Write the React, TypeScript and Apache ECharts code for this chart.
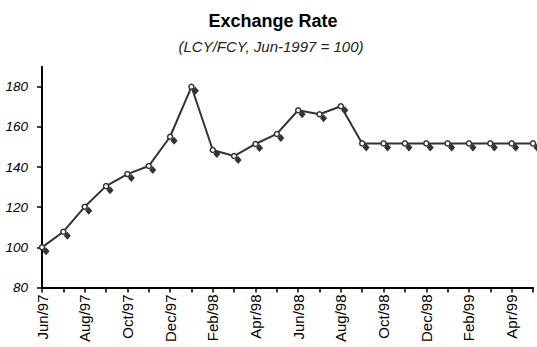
import React, { useEffect, useRef } from "react";
import * as echarts from "echarts";

const months = [
  "Jun/97", "Jul/97", "Aug/97", "Sep/97", "Oct/97", "Nov/97", "Dec/97",
  "Jan/98", "Feb/98", "Mar/98", "Apr/98", "May/98", "Jun/98", "Jul/98",
  "Aug/98", "Sep/98", "Oct/98", "Nov/98", "Dec/98", "Jan/99", "Feb/99",
  "Mar/99", "Apr/99", "May/99",
];

const rateIndex = [
  100, 107.8, 120.2, 130.5, 136.5, 140.5, 155.1, 180, 148.5, 145.5, 151.5,
  156.5, 168.3, 166.3, 170.3, 151.8, 151.8, 151.8, 151.8, 151.8, 151.8,
  151.8, 151.8, 151.8,
];

const titleText = "Exchange Rate";
const subtitleText = "(LCY/FCY, Jun-1997 = 100)";

const FONT = "'Liberation Sans', Arial, Helvetica, sans-serif";

export default function App() {
  const ref = useRef<HTMLDivElement>(null);

  useEffect(() => {
    if (!ref.current) return;
    const chart = echarts.init(ref.current, undefined, { renderer: "svg" });
    chart.setOption({
      animation: false,
      backgroundColor: "#ffffff",
      graphic: [
        {
          type: "text",
          x: 273,
          y: 21,
          style: {
            text: titleText,
            textAlign: "center",
            textVerticalAlign: "middle",
            fontFamily: FONT,
            fontSize: 18,
            fontWeight: "bold",
            fill: "#000",
          },
        },
        {
          type: "text",
          x: 271,
          y: 46,
          style: {
            text: subtitleText,
            textAlign: "center",
            textVerticalAlign: "middle",
            fontFamily: FONT,
            fontSize: 15,
            fontStyle: "italic",
            fill: "#222",
          },
        },
      ],
      grid: { left: 42, right: 4, top: 66.7, bottom: 59.5, containLabel: false },
      xAxis: {
        type: "category",
        data: months,
        boundaryGap: false,
        axisLine: { lineStyle: { color: "#000", width: 2 } },
        axisTick: { show: true, interval: 0, length: 5, lineStyle: { color: "#000", width: 1.5 } },
        axisLabel: {
          interval: 1,
          rotate: 90,
          margin: 7,
          fontFamily: FONT,
          fontSize: 15,
          color: "#000",
        },
        splitLine: { show: false },
      },
      yAxis: {
        type: "value",
        min: 80,
        max: 190,
        interval: 20,
        axisLine: { show: true, lineStyle: { color: "#000", width: 2 } },
        axisTick: { show: true, length: 5, lineStyle: { color: "#000", width: 1.5 } },
        axisLabel: {
          showMaxLabel: false,
          margin: 14,
          fontFamily: FONT,
          fontSize: 13.5,
          fontStyle: "italic",
          color: "#000",
        },
        splitLine: { show: false },
      },
      series: [
        {
          type: "scatter",
          data: rateIndex,
          symbol: "diamond",
          symbolSize: [7, 8],
          symbolOffset: [4, 4],
          itemStyle: { color: "#000" },
          z: 1,
        },
        {
          type: "line",
          data: rateIndex,
          symbol: "circle",
          symbolSize: 5,
          showAllSymbol: true,
          lineStyle: { color: "#333", width: 2 },
          itemStyle: { color: "#fff", borderColor: "#333", borderWidth: 1.5 },
          z: 2,
        },
      ],
    });
    return () => chart.dispose();
  }, []);

  return (
    <div
      ref={ref}
      style={{ position: "absolute", left: 0, top: 0, width: 537, height: 347 }}
    />
  );
}
